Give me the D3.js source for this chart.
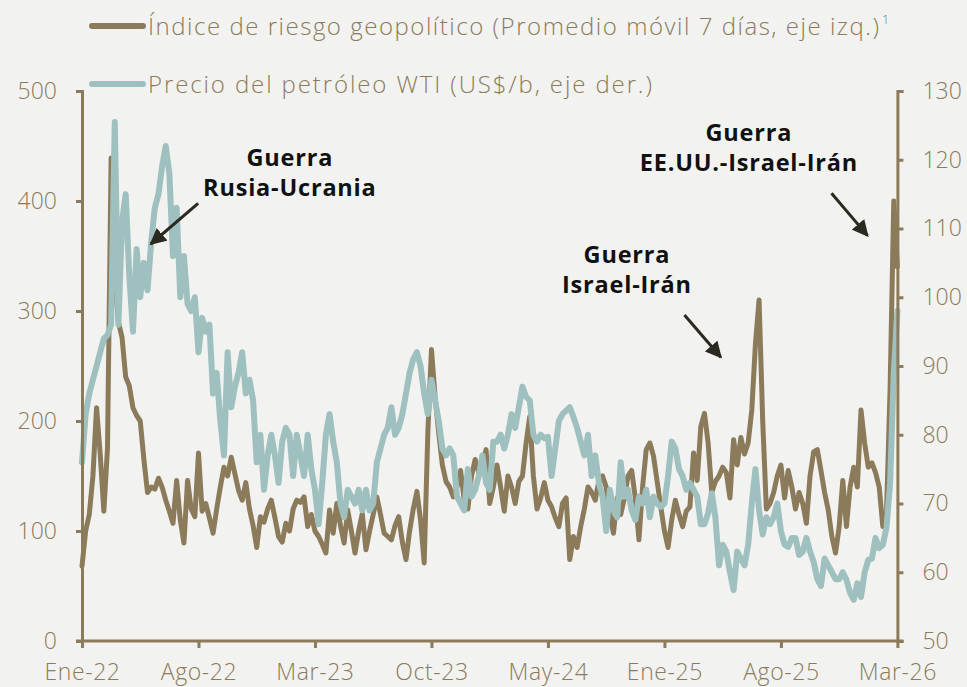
<!DOCTYPE html>
<html>
<head>
<meta charset="utf-8">
<script src="https://cdn.jsdelivr.net/npm/d3@7"></script>
<style>
  html, body { margin: 0; padding: 0; background: #f2f2f0; }
  svg { display: block; }
</style>
</head>
<body>
<svg id="chart" width="967" height="687"></svg>
<script>
// ---------- DATA ----------
const xTickLabels = ["Ene-22", "Ago-22", "Mar-23", "Oct-23", "May-24", "Ene-25", "Ago-25", "Mar-26"];
const leftTicks = [0, 100, 200, 300, 400, 500];
const rightTicks = [50, 60, 70, 80, 90, 100, 110, 120, 130];

// Índice de riesgo geopolítico (promedio móvil 7 días), weekly samples
const gpr = [
  68,100,115,150,212,170,118,175,439,330,
  290,276,240,232,212,205,200,165,135,140,
  138,148,140,128,118,107,146,110,89,146,
  120,113,171,118,125,112,98,120,140,158,
  150,167,152,137,128,144,120,105,85,113,
  108,120,128,112,95,90,107,100,120,128,
  126,131,104,115,100,95,88,80,119,98,
  125,105,89,119,100,80,100,116,83,100,
  115,131,115,98,95,92,105,113,90,74,
  100,120,136,110,71,189,265,222,189,160,
  145,140,131,140,155,128,120,150,165,153,
  160,174,125,140,160,140,118,150,140,125,
  145,150,180,204,150,120,130,144,128,122,
  112,104,125,130,74,95,85,104,120,140,
  135,128,146,150,140,115,98,130,115,130,
  150,155,130,92,140,174,180,168,145,122,
  100,85,110,128,115,104,118,122,171,146,
  195,207,180,135,145,150,158,153,130,183,
  160,185,170,180,210,270,310,200,120,125,
  135,150,160,130,155,140,120,135,125,107,
  150,172,174,155,135,119,95,80,104,146,
  104,140,158,140,210,180,158,162,153,140,
  104,116,230,400,340
];

// Precio del petróleo WTI (US$/b), weekly samples
const wti = [
  76,83,86,88,90,92,94,94.5,96,125.5,
  96,111,115,103,95,107,100,105,101,108,
  113,115,119,122,118,106,113,100,106,99,
  98,100,92,97,95,96,86,89,82,77,
  92,84,87,89,92,86,88,85,76,80,
  72,77,80,77,73,79,81,80,74,80,
  77,74,80,75,72,67,73,80,83,79,
  76,70,68,72,71,70,72,69,72,69,
  70,76,78,80,81,84,80,81,83,86,
  89,91,92,90,86,83,88,85,82,78,
  77,78,77,71,70,69,75,71,72,74,
  77,73,72,79,79,80,78,80,83,81,
  84,87,85.5,85,80,79,80,79.5,79.7,74,
  78,82,83,83.5,84,82.6,81,79,77,80,
  74,77,73,71,66,72,69,68,76,71,
  72,69,67.6,71,70,72,68,71,70,69.5,
  70,74,79,78,75,74,72,73,72,71,
  67,67,68.6,71.5,68,61,64,63,60,57.4,
  63,62,61,64,70,75,69,65.5,68,67,
  68,70,66,64,63.7,65,65,62.5,63,65,
  63,61.5,59,58,62,61,60,59,59,60,
  58.9,57,56,58.4,56.4,60,61.8,62,65,63.5,
  64,66.5,73,89,98
];

const legendLabels = [
  "Índice de riesgo geopolítico (Promedio móvil 7 días, eje izq.)",
  "Precio del petróleo WTI (US$/b, eje der.)"
];

// annotations in data units (x = sample index, y = left-axis value)
const annotations = [
  { lines: ["Guerra", "Rusia-Ucrania"], tx: 57.1, ty: 431.8, from: [31.9, 397.9], to: [18.9, 360.9] },
  { lines: ["Guerra", "Israel-Irán"], tx: 149.7, ty: 343.6, from: [165.5, 296.4], to: [175.5, 257.9] },
  { lines: ["Guerra", "EE.UU.-Israel-Irán"], tx: 183.2, ty: 454.5, from: [205.9, 407], to: [215.8, 368.5] }
];

// ---------- STYLE ----------
const brown = "#8b7b5b";
const teal = "#9ec0bf";
const dark = "#2b2920";
const font = "'Open Sans', Lato, sans-serif";

const svg = d3.select("#chart");
const margin = { left: 82, right: 897.4, top: 91, bottom: 641 };

const nPts = 225;
const x = d3.scaleLinear().domain([0, nPts - 1]).range([margin.left, margin.right]);
const yL = d3.scaleLinear().domain([0, 500]).range([margin.bottom, margin.top]);
const yR = d3.scaleLinear().domain([50, 130]).range([margin.bottom, margin.top]);

// ---------- LINES ----------
const lineL = d3.line().x((d, i) => x(i)).y(d => yL(d));
const lineR = d3.line().x((d, i) => x(i)).y(d => yR(d));

svg.append("path").datum(gpr).attr("d", lineL)
  .attr("fill", "none").attr("stroke", brown).attr("stroke-width", 5)
  .attr("stroke-linejoin", "round").attr("stroke-linecap", "round");

svg.append("path").datum(wti).attr("d", lineR)
  .attr("fill", "none").attr("stroke", teal).attr("stroke-width", 6)
  .attr("stroke-linejoin", "round").attr("stroke-linecap", "round");

// ---------- AXES ----------
function styleAxis(g) {
  g.selectAll("path.domain").attr("stroke", brown).attr("stroke-width", 3);
  g.selectAll(".tick line").attr("stroke", brown).attr("stroke-width", 3);
  g.selectAll(".tick text").attr("fill", brown).attr("font-family", font)
    .attr("font-weight", 300).attr("font-size", 23);
}

const gL = svg.append("g").attr("transform", `translate(${margin.left},0)`)
  .call(d3.axisLeft(yL).tickValues(leftTicks).tickSize(6).tickSizeOuter(6).tickPadding(19));
styleAxis(gL);

const gR = svg.append("g").attr("transform", `translate(${margin.right},0)`)
  .call(d3.axisRight(yR).tickValues(rightTicks).tickSize(6).tickSizeOuter(6).tickPadding(19));
styleAxis(gR);

const xTickIdx = xTickLabels.map((d, i) => i * 32);
const gB = svg.append("g").attr("transform", `translate(0,${margin.bottom})`)
  .call(d3.axisBottom(x).tickValues(xTickIdx).tickFormat((d, i) => xTickLabels[i])
    .tickSize(7).tickSizeOuter(0).tickPadding(16));
styleAxis(gB);
gB.selectAll(".tick text").attr("letter-spacing", 0.6);
gB.select("path.domain").attr("d", `M${margin.left - 6},0H${margin.right + 6}`);

// ---------- LEGEND ----------
const legColors = [brown, teal];
const legY = [26, 84];
const legWidths = [731, 504];
legendLabels.forEach((lab, i) => {
  svg.append("line").attr("x1", 92).attr("x2", 143).attr("y1", legY[i]).attr("y2", legY[i])
    .attr("stroke", legColors[i]).attr("stroke-width", 6).attr("stroke-linecap", "round");
  svg.append("text").attr("x", 148).attr("y", legY[i] + 9)
    .attr("fill", brown).attr("font-family", font).attr("font-weight", 300).attr("font-size", 24)
    .attr("textLength", legWidths[i]).attr("lengthAdjust", "spacing")
    .text(lab);
});
svg.append("text").attr("x", 882).attr("y", 24).attr("fill", brown)
  .attr("font-family", font).attr("font-weight", 300).attr("font-size", 13).text("1");

// ---------- ANNOTATIONS ----------
svg.append("defs").append("marker")
  .attr("id", "arrow").attr("viewBox", "0 0 10 10").attr("refX", 9).attr("refY", 5)
  .attr("markerWidth", 5.5).attr("markerHeight", 5.5).attr("orient", "auto")
  .append("path").attr("d", "M0,0L10,5L0,10Z").attr("fill", dark);

annotations.forEach(a => {
  const t = svg.append("text").attr("text-anchor", "middle")
    .attr("font-family", font).attr("font-weight", 700)
    .attr("font-size", 23.5).attr("letter-spacing", 0.8).attr("fill", "#111");
  a.lines.forEach((l, j) => {
    t.append("tspan").attr("x", x(a.tx)).attr("y", yL(a.ty) + j * 30).text(l);
  });
  svg.append("line")
    .attr("x1", x(a.from[0])).attr("y1", yL(a.from[1]))
    .attr("x2", x(a.to[0])).attr("y2", yL(a.to[1]))
    .attr("stroke", dark).attr("stroke-width", 3).attr("marker-end", "url(#arrow)");
});
</script>
</body>
</html>
